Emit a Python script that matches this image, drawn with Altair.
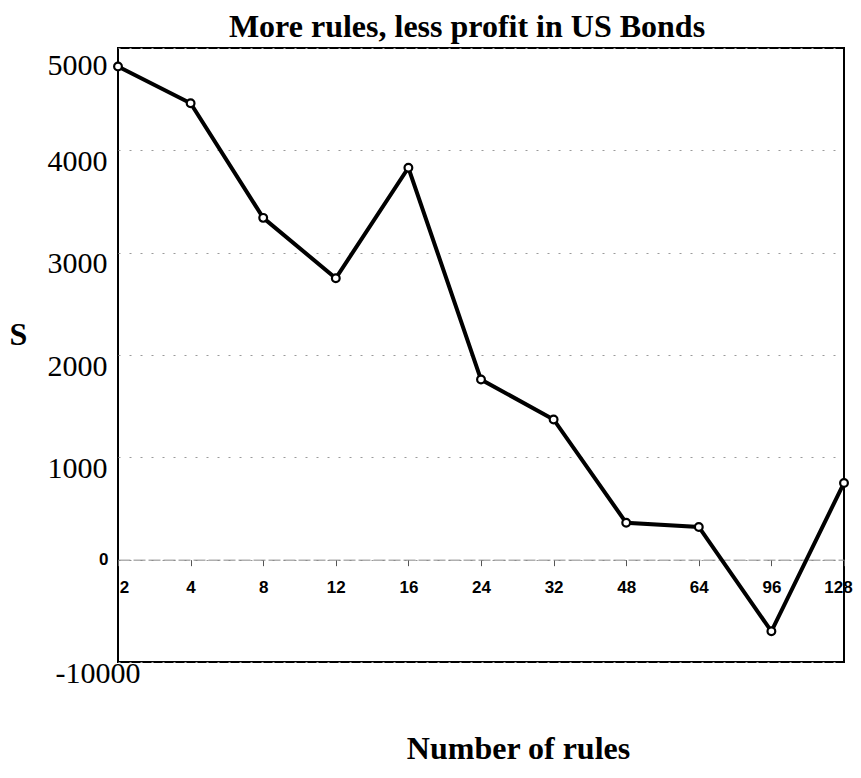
import altair as alt
import pandas as pd

rules = ["2", "4", "8", "12", "16", "24", "32", "48", "64", "96", "128"]
profit = [4820, 4460, 3340, 2750, 3830, 1760, 1370, 360, 320, -700, 750]
y_ticks = [-1000, 0, 1000, 2000, 3000, 4000, 5000]

df = pd.DataFrame({"rules": rules, "profit": profit})

W, H = 726, 614
ZERO_OFFSET = -(H * 1000 / 6000)

x_enc = alt.X(
    "rules:N",
    sort=rules,
    scale=alt.Scale(type="point", padding=0),
    axis=alt.Axis(
        orient="bottom",
        offset=ZERO_OFFSET,
        labelAngle=0,
        labelFont="Liberation Sans",
        labelFontWeight="bold",
        labelFontSize=17,
        labelColor="black",
        labelBaseline="middle",
        labelPadding=22,
        labelOffset={"condition": [
            {"test": "datum.value == '2'", "value": 6},
            {"test": "datum.value == '128'", "value": -6},
        ], "value": 0},
        tickSize=6,
        tickColor="#555",
        domainColor="#888",
        domainDash=[12, 3],
        domainWidth=1,
        grid=False,
        title="Number of rules",
        titleFont="Liberation Serif",
        titleFontSize=32,
        titleFontWeight="bold",
        titleColor="black",
        titleAnchor="start",
        titleAlign="center",
        titleBaseline="alphabetic",
        titleX=400,
        titleY=199,
    ),
)

y_enc = alt.Y(
    "profit:Q",
    scale=alt.Scale(domain=[-1000, 5000], nice=False, zero=False),
    axis=alt.Axis(
        values=y_ticks,
        format="d",
        labelExpr="datum.value == -1000 ? '-10000' : datum.label",
        domain=False,
        ticks=False,
        grid=True,
        gridColor="#9a9a9a",
        gridDash=[2, 9],
        gridWidth=1,
        labelColor="black",
        labelFont={"condition": {"test": "datum.value == 0", "value": "Liberation Sans"}, "value": "Liberation Serif"},
        labelFontWeight={"condition": {"test": "datum.value == 0", "value": "bold"}, "value": "normal"},
        labelFontSize={"condition": {"test": "datum.value == 0", "value": 17}, "value": 30},
        labelOffset={"condition": [
            {"test": "datum.value == 5000", "value": 17},
            {"test": "datum.value == 0", "value": 0},
        ], "value": 11},
        labelPadding={"condition": [
            {"test": "datum.value == 0", "value": 10},
            {"test": "datum.value == -1000", "value": -22},
        ], "value": 11},
        labelBaseline="middle",
        labelAlign="right",
        title="S",
        titleAngle=0,
        titleFont="Liberation Serif",
        titleFontSize=32,
        titleFontWeight="bold",
        titleColor="black",
        titleAlign="center",
        titleBaseline="middle",
        titleX=-100,
        titleY=286,
    ),
)

base = alt.Chart(df)
line = base.mark_line(color="black", strokeWidth=4).encode(x=x_enc, y=y_enc)
pts = base.mark_circle(fill="white", stroke="black", strokeWidth=2.2, size=60, opacity=1).encode(
    x=alt.X("rules:N", sort=rules), y="profit:Q"
)

chart = (
    alt.layer(line, pts)
    .properties(
        width=W,
        height=H,
        title=alt.TitleParams(
            "More rules, less profit in US Bonds",
            font="Liberation Serif",
            fontSize=32,
            fontWeight="bold",
            color="black",
            anchor="middle",
            baseline="alphabetic",
            offset=13,
            dx=-14,
            dy=34,
        ),
        autosize=alt.AutoSizeParams(type="none"),
        padding={"left": 110, "top": 40, "right": 9, "bottom": 104},
        background="white",
    )
    .configure_view(stroke="black", strokeWidth=2)
)

chart.save("out.html", embed_options={"renderer": "svg", "actions": False})
